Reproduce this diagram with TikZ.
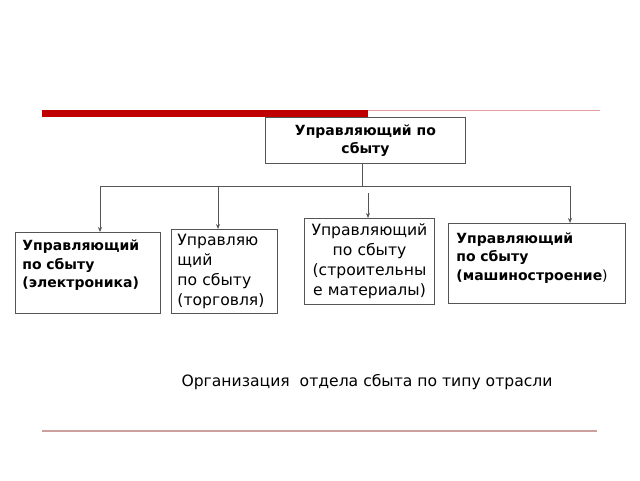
\documentclass[tikz,border=0pt]{standalone}
\usepackage{fontspec}
\setmainfont{DejaVu Sans}
\usetikzlibrary{arrows.meta}
\definecolor{barred}{RGB}{192,0,0}
\definecolor{thinred}{RGB}{226,160,160}
\definecolor{rulebrown}{RGB}{204,160,158}
\definecolor{edgegray}{RGB}{85,85,85}
\newcommand{\bodyfont}{\fontsize{15.6}{20}\selectfont}
\newcommand{\headfont}{\bfseries\fontsize{14}{18.5}\selectfont}

\tikzset{
  post/.style={draw=edgegray, line width=0.9pt, anchor=north west, inner xsep=7pt},
  wire/.style={draw=edgegray, line width=0.8pt},
  down/.style={wire, -{Stealth[length=5pt,width=4pt]}},
}

\begin{document}
\begin{tikzpicture}[x=1pt,y=-1pt]
\useasboundingbox (0,0) rectangle (640,480);

% red rule at the top
\fill[barred] (42,110) rectangle (368,116.5);
\draw[thinred, line width=0.8pt] (368,110.5) -- (600,110.5);

% boxes
\node[post, minimum width=200, minimum height=46, align=center, font=\headfont] (chief) at (265,117) {Управляющий по\\сбыту};
\node[post, text width=131, minimum height=81, align=left, font=\headfont] (elec) at (15,232) {Управляющий\\по сбыту\\(электроника)\\\mbox{}};
\node[post, inner xsep=6pt, text width=94, minimum height=84, align=left, font=\bodyfont] (trade) at (171,229) {Управляю\\щий\\по сбыту\\(торговля)};
\node[post, inner xsep=3pt, text width=124, minimum height=86, align=center, font=\bodyfont] (build) at (304,218) {Управляющий\\по сбыту\\(строительны\\е материалы)};
\node[post, inner xsep=8pt, text width=161, minimum height=80, align=left, font=\headfont] (mach) at (448,223) {Управляющий\\по сбыту\\(машиностроение{\mdseries)}\\[-4pt]\mbox{}};

% connectors
\coordinate (busL) at (100,186);
\coordinate (busT) at (218,186);
\coordinate (busR) at (570,186);
\coordinate (gap3) at (368,193);
\draw[wire] ([xshift=-3pt]chief.south) -- ([xshift=-3pt]chief.south |- busL);
\draw[wire] (busL) -- (busR);
\draw[down] (busL) -- (busL |- elec.north);
\draw[down] (busT) -- (busT |- trade.north);
\draw[down] (gap3) -- (gap3 |- build.north);
\draw[down] (busR) -- (busR |- mach.north);

% caption and bottom rule
\node[font=\bodyfont] (caption) at (367,382) {Организация\ \ отдела сбыта по типу отрасли};
\draw[rulebrown, line width=1.5pt] (42,431) -- (597,431);
\end{tikzpicture}
\end{document}
